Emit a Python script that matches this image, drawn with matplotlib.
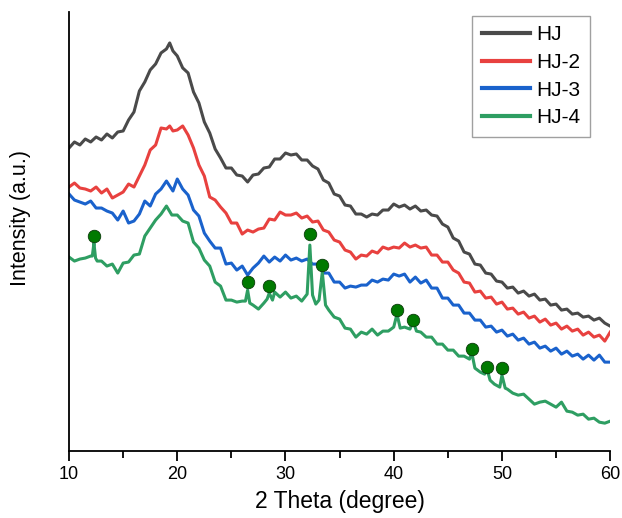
import matplotlib
matplotlib.use("Agg")
import matplotlib.pyplot as plt
from matplotlib.ticker import MultipleLocator

plt.rcParams['font.family'] = ['Liberation Sans', 'DejaVu Sans']

# 2-theta grid (degrees) for HJ, HJ-2, HJ-3
theta = [10, 10.5, 11, 11.5, 12, 12.5, 13, 13.5, 14, 14.5, 15, 15.5, 16, 16.5, 17, 17.5,
         18, 18.5, 19, 19.3, 19.6, 20, 20.5, 21, 21.5, 22, 22.5, 23, 23.5, 24, 24.5, 25,
         25.5, 26, 26.5, 27, 27.5, 28, 28.5, 29, 29.5, 30, 30.5, 31, 31.5, 32, 32.5, 33,
         33.5, 34, 34.5, 35, 35.5, 36, 36.5, 37, 37.5, 38, 38.5, 39, 39.5, 40, 40.5, 41,
         41.5, 42, 42.5, 43, 43.5, 44, 44.5, 45, 45.5, 46, 46.5, 47, 47.5, 48, 48.5, 49,
         49.5, 50, 50.5, 51, 51.5, 52, 52.5, 53, 53.5, 54, 54.5, 55, 55.5, 56, 56.5, 57,
         57.5, 58, 58.5, 59, 59.5, 60]

# intensities (a.u.)
hj = [303, 309, 306, 312, 309, 314, 311, 317, 313, 319, 320, 331, 339, 360, 369, 381,
      387, 398, 402, 408, 400, 395, 383, 378, 359, 348, 329, 318, 302, 293, 283, 283,
      276, 275, 269, 276, 277, 283, 284, 292, 292, 298, 296, 297, 291, 291, 285, 282,
      271, 268, 257, 255, 246, 245, 237, 237, 234, 237, 236, 241, 241, 247, 244, 246,
      242, 245, 240, 241, 236, 235, 227, 224, 213, 210, 199, 197, 187, 186, 178, 177,
      170, 169, 163, 164, 158, 160, 155, 157, 151, 152, 146, 147, 141, 142, 137, 138,
      134, 135, 131, 133, 128, 125]

hj2 = [264, 268, 263, 262, 260, 264, 258, 262, 253, 256, 259, 267, 264, 275, 286, 301,
       306, 323, 322, 325, 320, 321, 325, 316, 303, 286, 275, 254, 251, 244, 238, 228,
       228, 217, 221, 219, 222, 223, 232, 231, 239, 236, 236, 238, 233, 235, 229, 230,
       221, 219, 211, 209, 201, 199, 192, 196, 195, 200, 198, 204, 202, 204, 203, 208,
       204, 206, 203, 204, 196, 196, 189, 189, 181, 178, 169, 168, 159, 160, 153, 154,
       147, 149, 142, 143, 137, 139, 133, 135, 129, 132, 126, 128, 122, 125, 120, 122,
       116, 119, 114, 116, 110, 119]

hj3 = [257, 251, 249, 247, 250, 243, 243, 240, 238, 231, 240, 228, 230, 237, 250, 245,
       257, 262, 270, 265, 260, 272, 262, 256, 241, 235, 218, 210, 203, 203, 187, 188,
       181, 185, 176, 183, 188, 195, 189, 194, 190, 196, 191, 193, 190, 192, 187, 187,
       178, 178, 169, 169, 163, 165, 164, 166, 166, 171, 169, 172, 171, 177, 175, 177,
       169, 174, 168, 171, 163, 163, 153, 153, 146, 146, 138, 138, 131, 131, 124, 125,
       119, 121, 115, 117, 111, 113, 107, 109, 103, 105, 100, 103, 97, 100, 95, 97,
       92, 96, 91, 96, 89, 89]

# HJ-4 has sharp crystalline reflections, so it has its own denser grid
theta4 = [10, 10.5, 11, 11.5, 12, 12.15, 12.3, 12.45, 12.6, 13, 13.5, 14, 14.5, 15, 15.5,
          16, 16.5, 17, 17.5, 18, 18.5, 19, 19.5, 20, 20.5, 21, 21.5, 22, 22.5, 23, 23.5,
          24, 24.5, 25, 25.5, 26, 26.3, 26.5, 26.7, 27, 27.5, 28, 28.3, 28.5, 28.8, 29,
          29.5, 30, 30.5, 31, 31.5, 32, 32.25, 32.5, 32.8, 33.1, 33.4, 33.7, 34, 34.5,
          35, 35.5, 36, 36.5, 37, 37.5, 38, 38.5, 39, 39.5, 40, 40.3, 40.6, 41, 41.5,
          41.8, 42.1, 42.5, 43, 43.5, 44, 44.5, 45, 45.5, 46, 46.5, 47, 47.2, 47.5, 48,
          48.4, 48.6, 48.9, 49.3, 49.8, 50.0, 50.3, 50.5, 51, 51.5, 52, 52.5, 53, 53.5,
          54, 54.5, 55, 55.5, 56, 56.5, 57, 57.5, 58, 58.5, 59, 59.5, 60]

hj4 = [194, 190, 192, 193, 195, 195, 208, 193, 190, 190, 185, 187, 178, 188, 189,
       196, 197, 215, 223, 231, 237, 245, 236, 236, 230, 228, 209, 203, 191, 185, 169,
       165, 151, 151, 149, 150, 150, 161, 148, 146, 142, 148, 152, 158, 151, 159,
       154, 159, 153, 155, 150, 157, 206, 156, 147, 151, 179, 146, 141, 134,
       132, 123, 122, 114, 119, 117, 122, 116, 120, 120, 124, 137, 123, 124, 122,
       130, 120, 119, 114, 114, 107, 107, 101, 101, 95, 95, 92, 99, 83, 79,
       77, 83, 71, 67, 64, 76, 63, 62, 58, 56, 57, 52, 47, 49,
       50, 47, 44, 49, 40, 39, 36, 37, 32, 33, 29, 28, 30]

# reflection markers on HJ-4
mark_theta = [12.3, 26.5, 28.5, 32.25, 33.4, 40.3, 41.8, 47.2, 48.6, 50.0]
mark_int = [215, 169, 165, 217, 186, 141, 131, 102, 84, 83]

labels = ['HJ', 'HJ-2', 'HJ-3', 'HJ-4']
colors = ['#4a4a4a', '#e8413f', '#1a62cc', '#2e9e62']

fig = plt.figure(figsize=(6.22, 5.18), dpi=100)
ax = fig.add_axes([0.111, 0.129, 0.870, 0.848])

ax.plot(theta, hj, color=colors[0], lw=2.2, label=labels[0])
ax.plot(theta, hj2, color=colors[1], lw=2.2, label=labels[1])
ax.plot(theta, hj3, color=colors[2], lw=2.2, label=labels[2])
ax.plot(theta4, hj4, color=colors[3], lw=2.2, label=labels[3])
ax.plot(mark_theta, mark_int, 'o', color='#007a00', markeredgecolor='#0a3a0a',
        markeredgewidth=0.6, markersize=9, zorder=5)

ax.set_xlim(10, 60)
ax.set_ylim(0, 439)
ax.xaxis.set_major_locator(MultipleLocator(10))
ax.xaxis.set_minor_locator(MultipleLocator(5))
ax.set_yticks([])
ax.tick_params(axis='x', which='major', direction='out', length=7, width=1.3,
               labelsize=13, pad=4)
ax.tick_params(axis='x', which='minor', direction='out', length=5, width=1.3)
for s in ['top', 'right']:
    ax.spines[s].set_visible(False)
for s in ['left', 'bottom']:
    ax.spines[s].set_linewidth(1.3)

ax.set_xlabel('2 Theta (degree)', fontsize=16.5, labelpad=5)
ax.set_ylabel('Intensity (a.u.)', fontsize=15.5)
ax.yaxis.set_label_coords(-0.07, 0.531)

leg = ax.legend(loc='upper right', bbox_to_anchor=(0.963, 0.991), borderaxespad=0,
                fontsize=15, handlelength=2.3, handletextpad=0.33, labelspacing=0.42,
                borderpad=0.45, fancybox=False, frameon=True)
leg.get_frame().set_edgecolor('#888888')
leg.get_frame().set_linewidth(1.0)
for line in leg.get_lines():
    line.set_linewidth(3)

fig.savefig('out.png', dpi=100)
